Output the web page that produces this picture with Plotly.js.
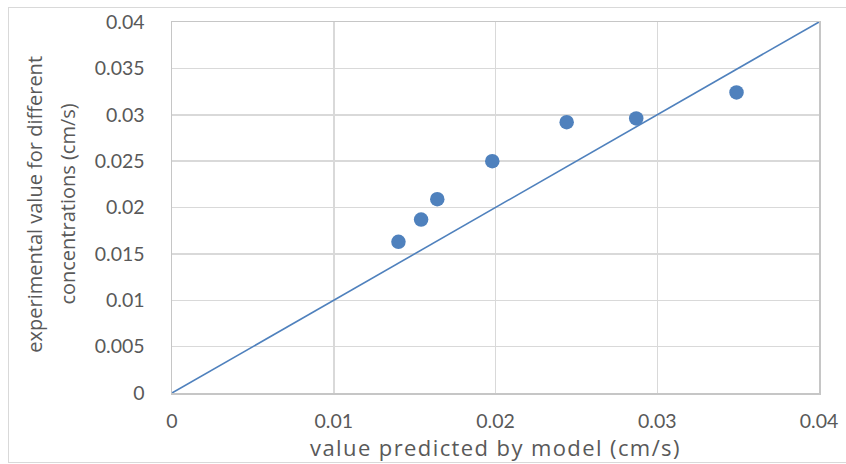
<!DOCTYPE html>
<html>
<head>
<meta charset="utf-8">
<script src="https://cdn.plot.ly/plotly-3.0.1.min.js"></script>
<style>
  html, body { margin: 0; padding: 0; background: #ffffff; }
  #wrap { position: relative; width: 846px; height: 464px; overflow: hidden; }
  #frame { position: absolute; left: 8px; top: 7px; width: 900px; height: 456px;
           border: 1.5px solid #d9d9d9; box-sizing: border-box; }
  #chart { position: absolute; left: 0; top: 0; width: 846px; height: 464px; }
  #chart .xtitle { letter-spacing: 1.4px; }
</style>
</head>
<body>
<div id="wrap">
  <div id="frame"></div>
  <div id="chart"></div>
</div>
<script>
// Model-predicted vs. experimental velocities (cm/s)
const predicted    = [0.0140, 0.0154, 0.0164, 0.0198, 0.0244, 0.0287, 0.0349];
const experimental = [0.0163, 0.0187, 0.0209, 0.0250, 0.0292, 0.0296, 0.0324];

// y = x reference line
const parityX = [0, 0.04];
const parityY = [0, 0.04];

const xTickVals = [0, 0.01, 0.02, 0.03, 0.04];
const xTickText = ['0', '0.01', '0.02', '0.03', '0.04'];
const yTickVals = [0, 0.005, 0.01, 0.015, 0.02, 0.025, 0.03, 0.035, 0.04];
const yTickText = ['0', '0.005', '0.01', '0.015', '0.02', '0.025', '0.03', '0.035', '0.04'];

const xTitle = 'value predicted by model (cm/s)';
const yTitleLines = ['experimental value for different', 'concentrations (cm/s)'];

const blue = '#4f81bd';
const tickFont = { family: 'Lato, "Open Sans", sans-serif', size: 19.5, color: '#595959' };
const xTitleFont = { family: '"Open Sans", sans-serif', size: 22, weight: 500, color: '#595959' };
const yTitleFont = { family: '"Open Sans", sans-serif', size: 20, color: '#595959' };

const traces = [
  {
    x: parityX, y: parityY, type: 'scatter', mode: 'lines',
    line: { color: blue, width: 1.6 }, hoverinfo: 'skip', cliponaxis: false
  },
  {
    x: predicted, y: experimental, type: 'scatter', mode: 'markers',
    marker: { color: blue, size: 14.5, line: { width: 0 } }
  }
];

const axisCommon = {
  showgrid: true, gridcolor: '#d9d9d9', gridwidth: 1.5,
  showline: true, linecolor: '#c6c6c6', linewidth: 1.5, mirror: true,
  zeroline: false, ticks: '', tickmode: 'array', tickfont: tickFont,
  fixedrange: true
};

const layout = {
  width: 846, height: 464,
  margin: { l: 172, r: 27, t: 22, b: 71 },
  paper_bgcolor: 'rgba(0,0,0,0)', plot_bgcolor: '#ffffff',
  showlegend: false,
  xaxis: Object.assign({}, axisCommon, {
    range: [0, 0.04], tickvals: xTickVals, ticktext: xTickText,
    ticklabelstandoff: 10,
    title: { text: xTitle, font: xTitleFont, standoff: 4 }
  }),
  yaxis: Object.assign({}, axisCommon, {
    range: [0, 0.04], tickvals: yTickVals, ticktext: yTickText,
    ticklabelstandoff: 22
  }),
  annotations: [
    { text: yTitleLines[0], xref: 'paper', yref: 'paper', x: -0.212, y: 0.51,
      textangle: -90, showarrow: false, font: yTitleFont, xanchor: 'center', yanchor: 'middle' },
    { text: yTitleLines[1], xref: 'paper', yref: 'paper', x: -0.161, y: 0.51,
      textangle: -90, showarrow: false, font: yTitleFont, xanchor: 'center', yanchor: 'middle' }
  ]
};

Plotly.newPlot('chart', traces, layout, { displayModeBar: false, staticPlot: true });
</script>
</body>
</html>
